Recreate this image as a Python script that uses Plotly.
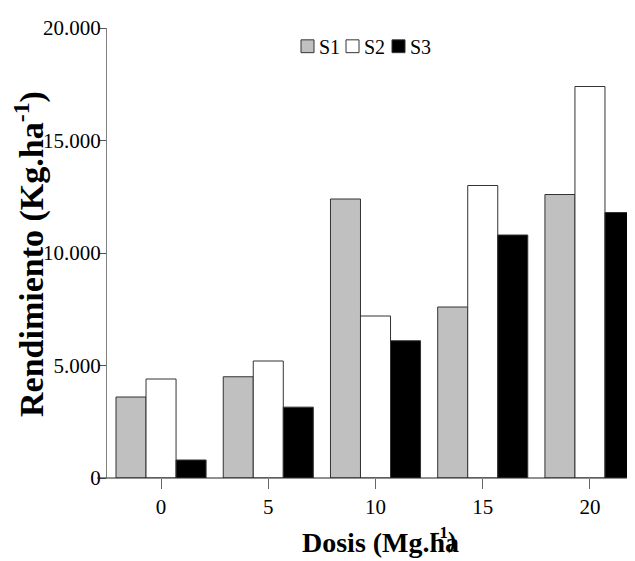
import plotly.graph_objects as go

categories = ["0", "5", "10", "15", "20"]
s1 = [3600, 4500, 12400, 7600, 12600]
s2 = [4400, 5200, 7200, 13000, 17400]
s3 = [800, 3150, 6100, 10800, 11800]
series_names = ["S1", "S2", "S3"]
colors = ["#c0c0c0", "#ffffff", "#000000"]
ytick_vals = [0, 5000, 10000, 15000, 20000]
ytick_text = ["0", "5.000", "10.000", "15.000", "20.000"]

OFF = 8  # page body margin
W, H = 635, 561
L, R, T, B = 99, 8, 14, 91
PW, PH = W - L - R, H - T - B

def px(x):  # page pixel -> paper
    return (x - OFF - L) / PW

def py(y):
    return (H - B - (y - OFF)) / PH

FONT = "Liberation Serif"

fig = go.Figure()
for name, vals, col in zip(series_names, [s1, s2, s3], colors):
    fig.add_trace(go.Bar(
        x=categories, y=vals, name=name,
        marker=dict(color=col, line=dict(color="#333333", width=1)),
        showlegend=False,
    ))

fig.update_layout(
    width=W, height=H,
    margin=dict(l=L, r=R, t=T, b=B),
    paper_bgcolor="white", plot_bgcolor="white",
    barmode="group", bargap=0.16, bargroupgap=0,
    font=dict(family=FONT, color="black"),
    xaxis=dict(
        type="category", range=[-0.504, 4.42],
        showline=False, showgrid=False, zeroline=False,
        ticks="outside", ticklen=10, tickcolor="#666666", tickwidth=1,
        tickfont=dict(size=21, family=FONT, color="black"),
    ),
    yaxis=dict(
        range=[0, 20000], tickvals=ytick_vals, ticktext=ytick_text,
        showline=True, linecolor="#808080", linewidth=1,
        showgrid=False, zeroline=False,
        ticks="outside", ticklen=7, tickcolor="#555555", tickwidth=1,
        ticklabelstandoff=-6,
        tickfont=dict(size=21, family=FONT, color="black"),
    ),
)

# x axis baseline
fig.add_shape(type="line", xref="paper", yref="paper",
              x0=px(97), x1=1, y0=0, y1=0,
              line=dict(color="#222222", width=1))

# y axis title
fig.add_annotation(xref="paper", yref="paper", x=px(30), y=py(251),
                   text="<b>Rendimiento (Kg.ha<sup>-1</sup>)</b>", showarrow=False,
                   textangle=-90, xanchor="center", yanchor="middle",
                   font=dict(size=34, family=FONT, color="black"))

# x axis title (as drawn in the reference)
fig.add_annotation(xref="paper", yref="paper", x=px(380), y=py(543),
                   text="<b>Dosis (Mg.ha</b>", showarrow=False,
                   font=dict(size=28, family=FONT, color="black"),
                   xanchor="center", yanchor="middle")
fig.add_annotation(xref="paper", yref="paper", x=px(445), y=py(539),
                   text="<b><sup>-1</sup>)</b>", showarrow=False,
                   font=dict(size=24, family=FONT, color="black"),
                   xanchor="center", yanchor="middle")

# legend drawn manually
leg_sq_x = [301, 346, 392]
for name, col, x0 in zip(series_names, colors, leg_sq_x):
    fig.add_shape(type="rect", xref="paper", yref="paper",
                  x0=px(x0), x1=px(x0 + 13), y0=py(47), y1=py(34),
                  fillcolor=col, line=dict(color="#333333", width=1))
    fig.add_annotation(xref="paper", yref="paper", x=px(x0 + 16), y=py(41),
                       text=name, showarrow=False, xanchor="left", yanchor="middle",
                       font=dict(size=20, family=FONT, color="black"))

fig.write_html("out.html")
